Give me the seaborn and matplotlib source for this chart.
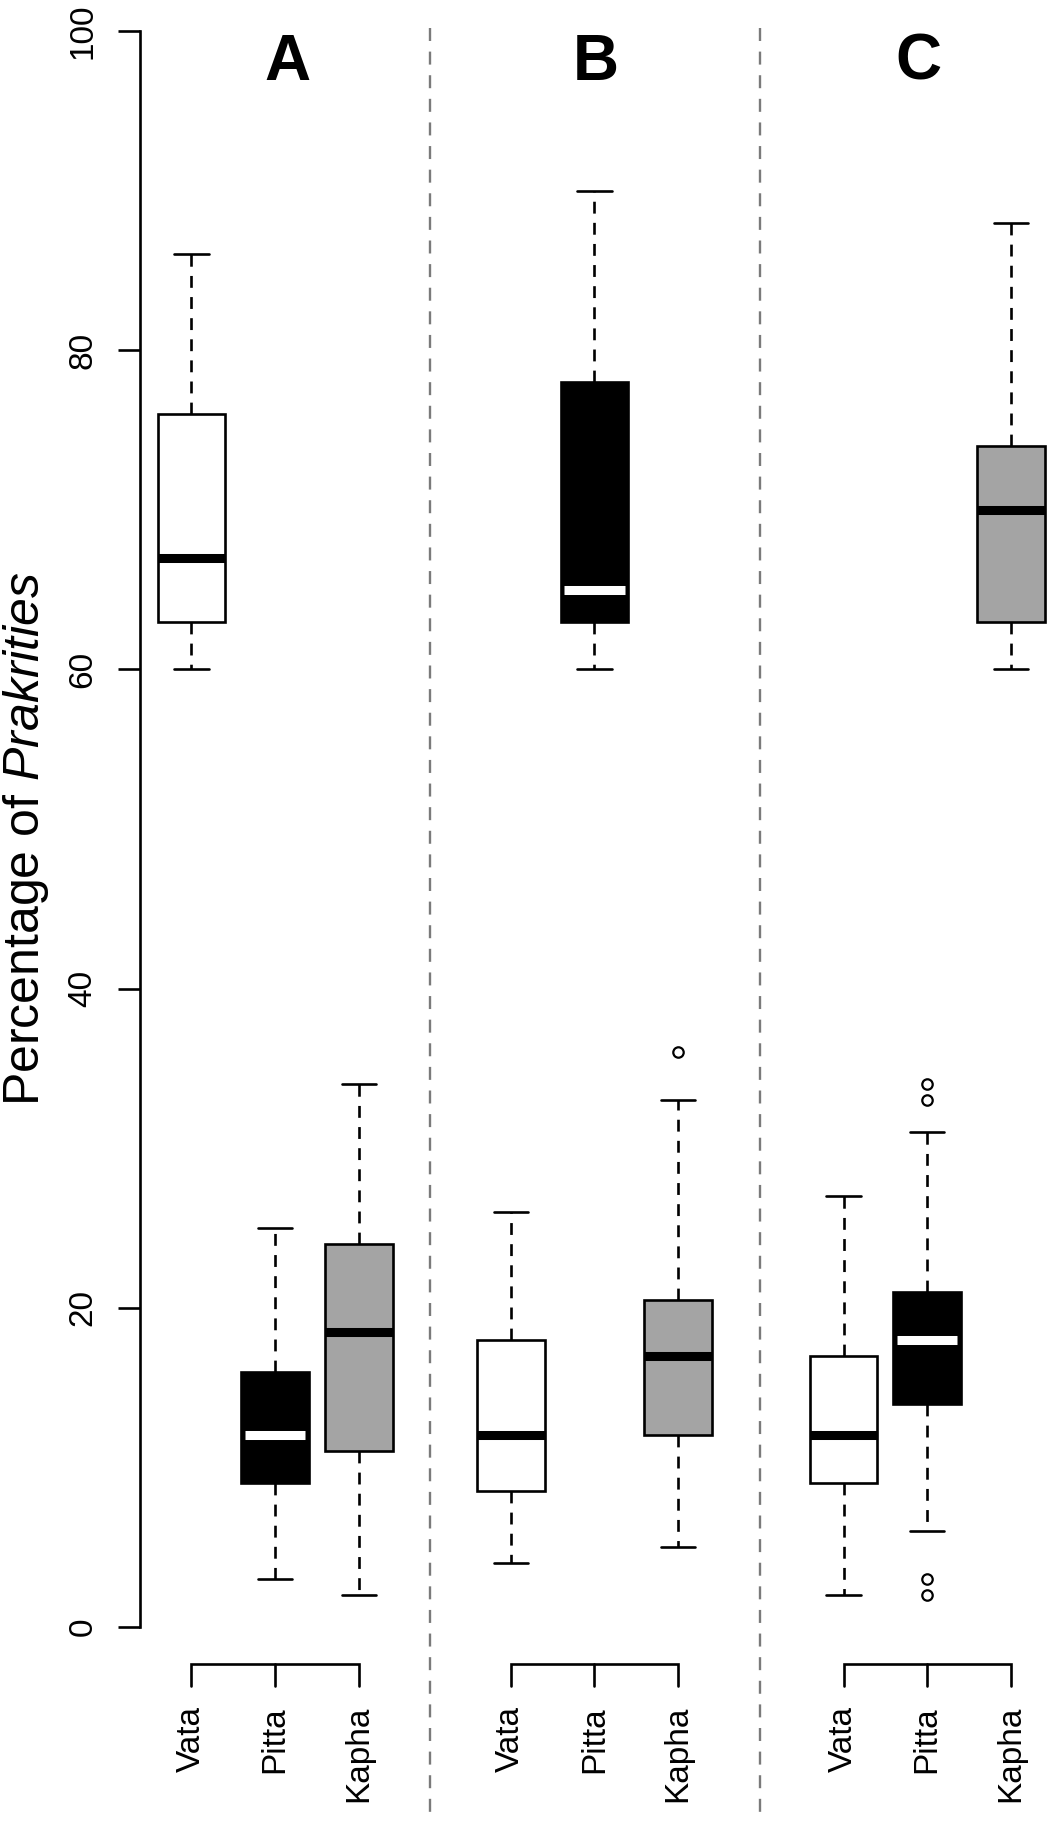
import numpy as np
import matplotlib
matplotlib.use("Agg")
import matplotlib.pyplot as plt
import seaborn as sns

# ---------------- data ----------------
panels = ["A", "B", "C"]
categories = ["Vata", "Pitta", "Kapha"]

# per panel: values for Vata, Pitta, Kapha
whisker_low = {"A": [60, 3, 2], "B": [4, 60, 5], "C": [2, 6, 60]}
quartile_1 = {"A": [63, 9, 11], "B": [8.5, 63, 12], "C": [9, 14, 63]}
medians = {"A": [67, 12, 18.5], "B": [12, 65, 17], "C": [12, 18, 70]}
quartile_3 = {"A": [76, 16, 24], "B": [18, 78, 20.5], "C": [17, 21, 74]}
whisker_high = {"A": [86, 25, 34], "B": [26, 90, 33], "C": [27, 31, 88]}
outliers = {"A": [[], [], []], "B": [[], [], [36]], "C": [[], [2, 3, 33, 34], []]}

y_ticks = [0, 20, 40, 60, 80, 100]
y_label_plain = "Percentage of "
y_label_italic = "Prakrities"

# ---------------- style ----------------
sns.set_style("white")
plt.rcParams["font.family"] = ["Liberation Sans", "DejaVu Sans"]
plt.rcParams["mathtext.fontset"] = "custom"
plt.rcParams["mathtext.rm"] = "Liberation Sans"
plt.rcParams["mathtext.it"] = "Liberation Sans:italic"
for k in ["text.color", "axes.labelcolor", "xtick.color", "ytick.color", "axes.edgecolor"]:
    plt.rcParams[k] = "black"

box_fill = ["white", "black", "#a4a4a4"]
median_color = ["black", "white", "black"]

# layout (positions along the category axis)
panel_positions = {"A": [0.0, 1.0, 2.0], "B": [3.82, 4.82, 5.82], "C": [7.80, 8.80, 9.80]}
title_x = {"A": 1.153, "B": 4.84, "C": 8.70}
separator_x = [2.853, 6.80]

fig = plt.figure(figsize=(10.5, 18.21), dpi=100)
ax = fig.add_axes([0.13333, 0.10654, 0.86667, 0.87644])

stats, pos, fills, mcols = [], [], [], []
for p in panels:
    for j, c in enumerate(categories):
        stats.append(dict(med=medians[p][j], q1=quartile_1[p][j], q3=quartile_3[p][j],
                          whislo=whisker_low[p][j], whishi=whisker_high[p][j],
                          fliers=np.array(outliers[p][j], dtype=float), label=c))
        pos.append(panel_positions[p][j])
        fills.append(box_fill[j])
        mcols.append(median_color[j])

lw = 1.9
bp = ax.bxp(stats, positions=pos, widths=0.81, capwidths=0.41, patch_artist=True,
            showfliers=True, manage_ticks=False,
            boxprops=dict(linewidth=lw, edgecolor="black"),
            whiskerprops=dict(linewidth=lw, linestyle=(0, (4.5, 3.5)), color="black"),
            capprops=dict(linewidth=lw, color="black"),
            medianprops=dict(linewidth=6.5, solid_capstyle="butt"),
            flierprops=dict(marker="o", markerfacecolor="none", markeredgecolor="black",
                            markersize=7.5, markeredgewidth=1.6))

for patch, f in zip(bp["boxes"], fills):
    patch.set_facecolor(f)
for med, mc in zip(bp["medians"], mcols):
    med.set_color(mc)
    xd = med.get_xdata()
    inset = 0.045 if mc == "white" else 0.0
    med.set_xdata([xd[0] + inset, xd[1] - inset])
    med.set_zorder(3)

ax.set_xlim(-0.616, 10.27)
ax.set_ylim(0, 100)

# y axis in R style
for s in ["top", "right", "bottom"]:
    ax.spines[s].set_visible(False)
ax.spines["left"].set_linewidth(lw)
ax.spines["left"].set_color("black")
ax.spines["left"].set_bounds(0, 100)
ax.set_xticks([])
ax.set_yticks(y_ticks)
ax.set_yticklabels([str(t) for t in y_ticks])
ax.tick_params(axis="y", direction="out", length=15.8, width=lw, color="black",
               labelcolor="black", labelsize=24, pad=14, labelrotation=90, left=True)
for lab in ax.get_yticklabels():
    lab.set_va("center")

# category brackets and labels under each panel
y_line, y_tick, y_text = -2.32, -3.70, -4.95
for p in panels:
    xs = panel_positions[p]
    ax.plot([xs[0], xs[0], xs[2], xs[2]], [y_tick, y_line, y_line, y_tick],
            color="black", lw=lw, clip_on=False, solid_joinstyle="miter")
    ax.plot([xs[1], xs[1]], [y_line, y_tick], color="black", lw=lw, clip_on=False)
    for x, c in zip(xs, categories):
        ax.text(x, y_text, c, rotation=90, ha="center", va="top", fontsize=24,
                color="black", clip_on=False)
    ax.text(title_x[p], 96.96, p, fontsize=46, fontweight="bold", ha="center",
            va="baseline", color="black")

# dashed grey separators between panels
for xsep in separator_x:
    ax.plot([xsep, xsep], [100.2, -12.4], color="#7a7a7a", lw=1.7,
            ls=(0, (5.5, 4.5)), clip_on=False, zorder=0)

fig.text(26 / 1050, 0.5395, y_label_plain + r"$\it{" + y_label_italic + "}$",
         rotation=90, ha="center", va="center", fontsize=36, color="black")

fig.savefig("out.png", dpi=100)
